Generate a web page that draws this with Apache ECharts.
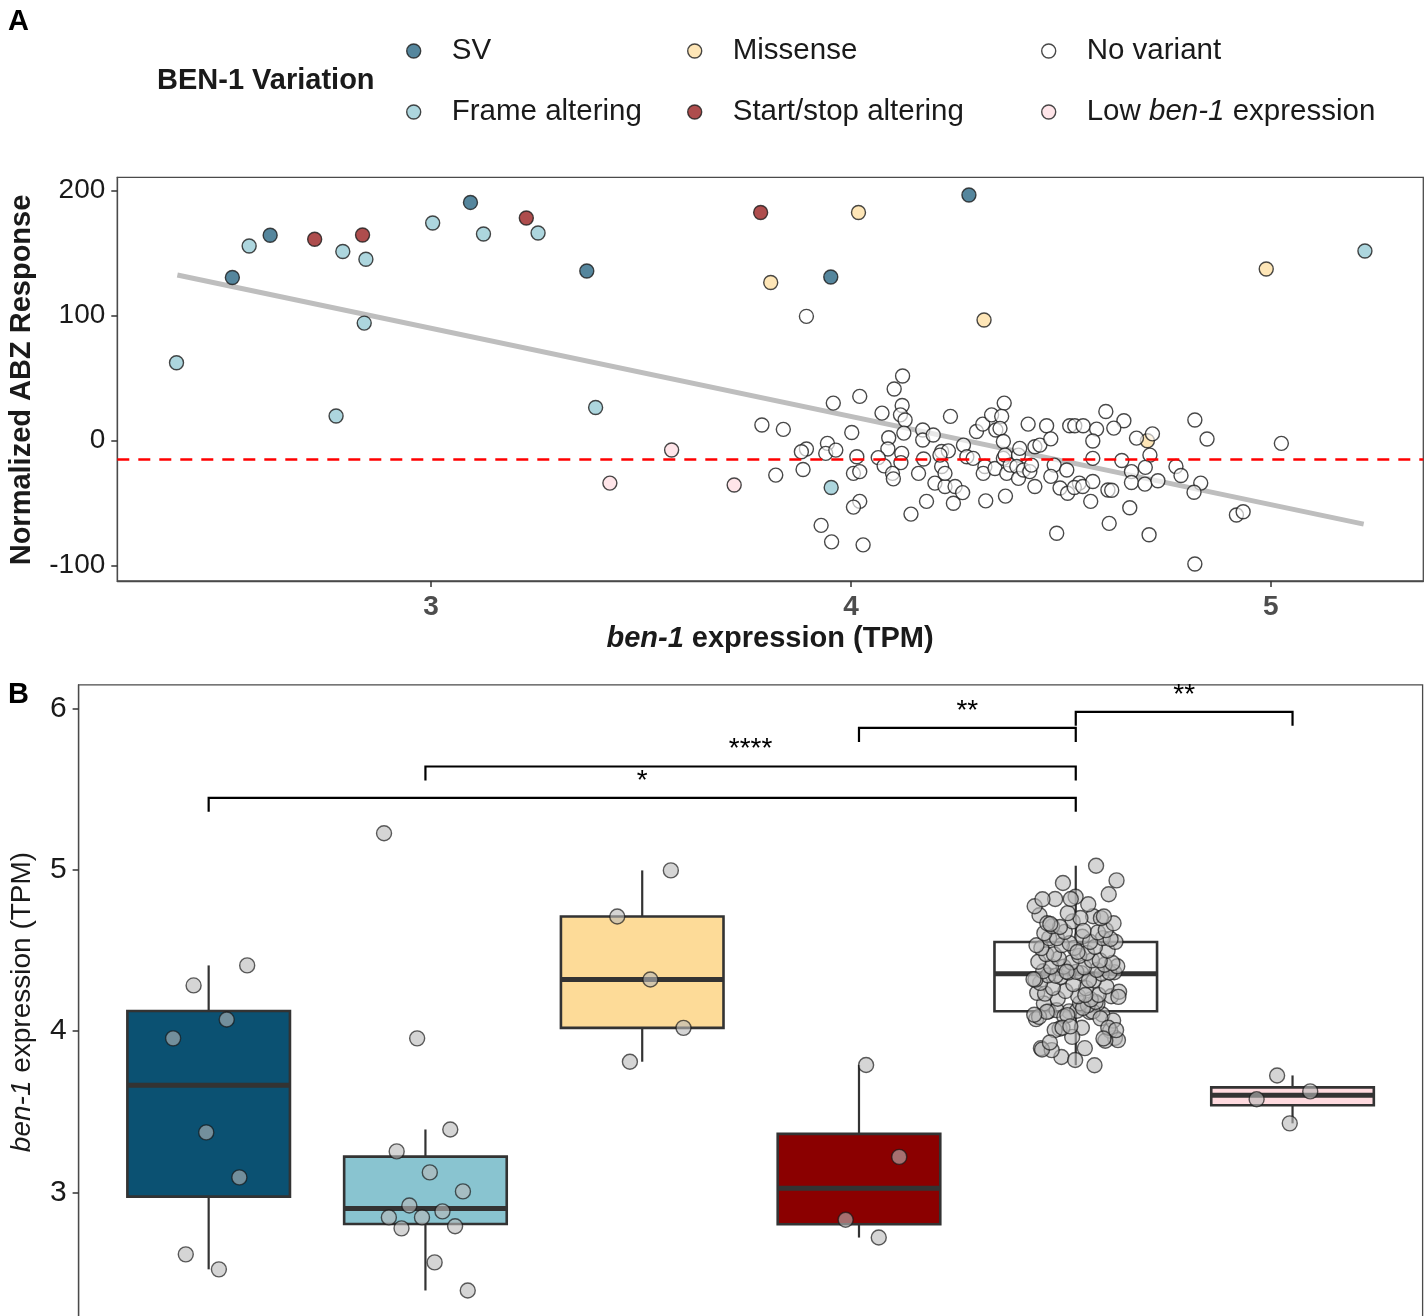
<!DOCTYPE html>
<html>
<head>
<meta charset="utf-8">
<script src="https://cdn.jsdelivr.net/npm/echarts@6/dist/echarts.min.js"></script>
<style>
  html, body { margin: 0; padding: 0; overflow: hidden; background: #fff; }
  #chart { width: 1427px; height: 1420px; }
</style>
</head>
<body>
<div id="chart"></div>
<script>
// ---- Variant classes ----
const groups = ['SV', 'Frame altering', 'Missense', 'Start/stop altering', 'No variant', 'Low ben-1 expression'];

// ---- Panel A: ben-1 expression (TPM) vs normalized ABZ response ----
const svTPM_A = [2.527, 2.617, 3.094, 3.371, 3.952, 4.281];
const svABZ = [130.6, 164.3, 190.6, 135.7, 131.0, 196.5];
const frameTPM_A = [2.394, 2.567, 2.774, 2.790, 2.841, 2.845, 3.004, 3.125, 3.255, 3.392, 3.953, 5.224];
const frameABZ = [62.4, 155.8, 19.8, 151.4, 94.1, 145.1, 174.1, 165.4, 166.2, 26.6, -37.4, 151.8];
const missenseTPM_A = [3.809, 4.018, 4.317, 4.706, 4.989];
const missenseABZ = [126.6, 182.6, 96.6, 0.0, 137.3];
const startStopTPM_A = [2.723, 2.837, 3.227, 3.785];
const startStopABZ = [161.1, 164.6, 178.1, 182.6];
const lowTPM_A = [3.426, 3.573, 3.722];
const lowABZ = [-33.9, -7.4, -35.4];

// Strains without a ben-1 variant (shared by both panels)
const noVariantTPM = [
  3.894, 3.788, 3.839, 3.958, 4.021, 4.123, 4.103, 4.122, 4.074, 4.118,
  4.129, 4.002, 4.126, 4.171, 4.171, 4.090, 3.944, 3.894, 3.882, 3.940,
  3.964, 4.088, 4.121, 4.014, 4.065, 4.173, 4.119, 4.079, 4.099, 4.101,
  4.161, 4.006, 4.021, 3.821, 3.886, 4.180, 4.021, 4.006, 4.143, 3.929,
  3.954, 4.029,
  4.237, 4.196, 4.200, 4.216, 4.216, 4.232, 4.224, 4.248, 4.244, 4.266,
  4.268, 4.276, 4.291, 4.299, 4.314, 4.335, 4.365, 4.359, 4.345, 4.355,
  4.363, 4.319, 4.315, 4.343, 4.363, 4.367, 4.371, 4.379, 4.399, 4.402,
  4.395, 4.399, 4.411, 4.426, 4.430, 4.438, 4.450, 4.422, 4.466, 4.476,
  4.438, 4.368, 4.321, 4.484, 4.476, 4.498, 4.516, 4.514, 4.521, 4.533,
  4.553, 4.585, 4.576, 4.576, 4.544, 4.532, 4.552, 4.576, 4.571, 4.490,
  4.607, 4.612, 4.615, 4.212, 4.224,
  4.650, 4.626, 4.680, 4.718, 4.712, 4.645, 4.668, 4.701, 4.668, 4.700,
  4.731, 4.774, 4.786, 4.819, 4.848, 4.833, 4.817, 5.025, 4.918, 4.934,
  4.621, 4.664, 4.710, 4.819
];
const noVariantABZ = [
  99.5, 12.6, 9.1, 30.1, 35.5, 51.8, 41.4, 28.2, 22.1, 20.7,
  16.6, 6.6, 6.1, 8.6, 0.6, 2.4, -2.1, -6.6, -8.8, -10.1,
  -7.5, -6.6, -10.1, -12.8, -13.5, -14.6, -17.5, -20.1, -26.1, -30.5,
  -26.1, -26.1, -24.7, -27.5, -23.0, -48.5, -48.5, -53.1, -58.7, -67.7,
  -80.9, -83.3,
  19.5, 4.6, -33.9, -20.6, -8.6, -8.1, -36.6, -36.6, -50.0, -41.5,
  -3.5, -12.8, -14.1, 7.4, 13.3, 20.7, 30.1, 19.5, 8.6, 9.9,
  -0.6, -20.6, -26.1, -22.2, -14.1, -11.5, -26.1, -19.5, -11.5, -6.1,
  -20.6, -30.1, -23.4, -24.7, -19.5, -4.8, -3.5, 13.3, 12.0, 1.5,
  -36.6, -44.3, -48.1, -19.5, -28.5, -37.8, -42.0, -23.4, 12.0, 12.0,
  12.0, 9.3, -0.2, -14.1, -33.9, -37.4, -36.6, -32.6, -48.5, -74.0,
  23.4, -39.4, -66.1, -11.5, -26.1,
  16.0, 10.1, 2.1, 5.5, -11.5, -15.8, -24.7, -21.3, -33.4, -34.7,
  -32.0, -20.6, -27.8, 16.6, 1.4, -33.9, -41.2, -2.1, -59.4, -56.8,
  -39.6, -53.6, -75.2, -98.6
];

// Linear fit end points and the response threshold
const fitTPM = [2.396, 5.221];
const fitABZ = [132.6, -66.7];
const abzThreshold = -15;

// ---- Panel B: ben-1 expression per variant class ----
const svTPM = [2.523, 2.616, 3.093, 3.372, 3.955, 4.072, 4.283, 4.407];
const frameTPM = [2.392, 2.566, 2.777, 2.790, 2.845, 2.845, 2.882, 2.919, 3.006, 3.124, 3.254, 3.390, 3.955, 5.226];
const missenseTPM = [3.810, 4.020, 4.320, 4.710, 4.996];
const startStopTPM = [2.720, 2.830, 3.220, 3.790];
const lowTPM = [3.428, 3.577, 3.626, 3.725];

// Pairwise comparisons: [group 1, group 2, label, bracket height]
const comparisons = [
  ['SV', 'No variant', '*', 5.446],
  ['Frame altering', 'No variant', '****', 5.640],
  ['Start/stop altering', 'No variant', '**', 5.879],
  ['No variant', 'Low ben-1 expression', '**', 5.979]
];

// Axis ticks
const abzTicks = [-100, 0, 100, 200];
const tpmTicksA = [3, 4, 5];

// ---- styling ----
const FONT = '"Liberation Sans", Arial, Helvetica, sans-serif';
const palette = ['#0B5172', '#89C4D0', '#FDDB98', '#8B0000', '#FFFFFF', '#FFDADF'];
function rgba(hex, a) {
  const n = parseInt(hex.slice(1), 16);
  return 'rgba(' + ((n >> 16) & 255) + ',' + ((n >> 8) & 255) + ',' + (n & 255) + ',' + a + ')';
}
function zip(xs, ys) { return xs.map((x, i) => [x, ys[i]]); }

// ---- box statistics (R type-7 quantiles, 1.5 IQR whiskers) ----
function quantile(sorted, p) {
  const h = (sorted.length - 1) * p;
  const lo = Math.floor(h);
  const hi = Math.min(lo + 1, sorted.length - 1);
  return sorted[lo] + (h - lo) * (sorted[hi] - sorted[lo]);
}
function boxStats(values) {
  const s = values.slice().sort((a, b) => a - b);
  const q1 = quantile(s, 0.25), med = quantile(s, 0.5), q3 = quantile(s, 0.75);
  const iqr = q3 - q1;
  const lo = s.find(v => v >= q1 - 1.5 * iqr);
  const hi = s.slice().reverse().find(v => v <= q3 + 1.5 * iqr);
  return [lo, q1, med, q3, hi];
}

const tpmByGroup = [svTPM, frameTPM, missenseTPM, startStopTPM, noVariantTPM, lowTPM];
const boxData = tpmByGroup.map((vals, gi) => [gi + 1].concat(boxStats(vals)));

// horizontal spread of the points (width 0.2 either side of the group centre)
function spread(i, seed) {
  const u = ((i + 1) * 0.6180339887 + seed) % 1;
  return (u - 0.5) * 0.4;
}
const pointsB = [];
tpmByGroup.forEach((vals, gi) => {
  vals.forEach((v, i) => pointsB.push([gi + 1 + spread(i, gi * 0.37), v]));
});

const bracketData = comparisons.map(c => [groups.indexOf(c[0]) + 1, groups.indexOf(c[1]) + 1, c[3]]);

// ---- panel A scatter series ----
const scatterA = [
  [0, svTPM_A, svABZ],
  [1, frameTPM_A, frameABZ],
  [2, missenseTPM_A, missenseABZ],
  [3, startStopTPM_A, startStopABZ],
  [5, lowTPM_A, lowABZ],
  [4, noVariantTPM, noVariantABZ]
].map(([gi, xs, ys]) => ({
  type: 'scatter',
  name: groups[gi],
  xAxisIndex: 0, yAxisIndex: 0,
  data: zip(xs, ys),
  symbol: 'circle',
  symbolSize: 14,
  z: 4,
  itemStyle: { color: rgba(palette[gi], gi === 4 ? 0.8 : 0.87), borderColor: '#1a1a1a', borderWidth: 1.4 },
  emphasis: { disabled: true }
}));

function legendFormatter(name) {
  if (name === 'Low ben-1 expression') return '{n|Low }{i|ben-1}{n| expression}';
  return '{n|' + name + '}';
}
function makeLegend(left, names) {
  return {
    data: names, left: left, top: 36, orient: 'vertical', padding: 0,
    itemWidth: 66, itemHeight: 14, itemGap: 31, icon: 'circle',
    selectedMode: false,
    itemStyle: { borderColor: '#1a1a1a', borderWidth: 1.4 },
    formatter: legendFormatter,
    textStyle: {
      fontSize: 29.5, color: '#1a1a1a', fontFamily: FONT, lineHeight: 28,
      rich: {
        n: { fontSize: 29.5, fontFamily: FONT, color: '#1a1a1a', lineHeight: 28 },
        i: { fontSize: 29.5, fontFamily: FONT, color: '#1a1a1a', lineHeight: 28, fontStyle: 'italic' }
      }
    }
  };
}

const chart = echarts.init(document.getElementById('chart'), null, { renderer: 'canvas' });

const option = {
  animation: false,
  backgroundColor: '#ffffff',
  textStyle: { fontFamily: FONT },
  legend: [
    makeLegend(406, ['SV', 'Frame altering']),
    makeLegend(687, ['Missense', 'Start/stop altering']),
    makeLegend(1041, ['No variant', 'Low ben-1 expression'])
  ],
  grid: [
    { left: 117.3, top: 177.3, width: 1306, height: 403.7, show: true, borderColor: '#4a4a4a', borderWidth: 1.3,
      backgroundColor: 'transparent', outerBoundsMode: 'none', containLabel: false },
    { left: 78.6, top: 684.9, width: 1344, height: 668.8, show: true, borderColor: '#4a4a4a', borderWidth: 1.3,
      backgroundColor: 'transparent', outerBoundsMode: 'none', containLabel: false }
  ],
  xAxis: [
    {
      type: 'value', gridIndex: 0, min: 2.253, max: 5.363,
      axisLine: { show: true, onZero: false, lineStyle: { color: '#4a4a4a', width: 1.3 } },
      axisTick: { show: true, length: 6, customValues: tpmTicksA, lineStyle: { color: '#333', width: 1.5 } },
      axisLabel: { customValues: tpmTicksA, fontSize: 28, fontWeight: 'bold', color: '#4d4d4d', margin: 12, fontFamily: FONT },
      splitLine: { show: false }
    },
    {
      type: 'value', gridIndex: 1, min: 0.4, max: 6.6,
      axisLine: { show: false, onZero: false }, axisTick: { show: false }, axisLabel: { show: false }, splitLine: { show: false }
    }
  ],
  yAxis: [
    {
      type: 'value', gridIndex: 0, min: -112.2, max: 210.7,
      axisLine: { show: true, onZero: false, lineStyle: { color: '#4a4a4a', width: 1.3 } },
      axisTick: { show: true, length: 6, customValues: abzTicks, lineStyle: { color: '#333', width: 1.5 } },
      axisLabel: { customValues: abzTicks, fontSize: 28, color: '#1a1a1a', margin: 12, fontFamily: FONT },
      splitLine: { show: false }
    },
    {
      type: 'value', gridIndex: 1, min: 2, max: 6.146, interval: 1,
      axisLine: { show: true, onZero: false, lineStyle: { color: '#4a4a4a', width: 1.3 } },
      axisTick: { show: true, length: 6, lineStyle: { color: '#333', width: 1.5 } },
      axisLabel: { fontSize: 30, color: '#1a1a1a', margin: 12, fontFamily: FONT },
      splitLine: { show: false }
    }
  ],
  series: [
    {
      type: 'line', name: 'fit', xAxisIndex: 0, yAxisIndex: 0,
      data: zip(fitTPM, fitABZ), symbol: 'none', z: 2, silent: true,
      lineStyle: { color: '#bebebe', width: 5 },
      markLine: {
        silent: true, symbol: ['none', 'none'], label: { show: false },
        lineStyle: { color: '#ff0000', width: 2.5, type: [12, 9] },
        data: [{ yAxis: abzThreshold }]
      }
    },
    ...scatterA,
    {
      type: 'custom', name: 'boxes', xAxisIndex: 1, yAxisIndex: 1, z: 2, silent: true,
      data: boxData,
      encode: { x: 0, y: [1, 2, 3, 4, 5] },
      renderItem: function (params, api) {
        const x = api.value(0);
        const lo = api.value(1), q1 = api.value(2), med = api.value(3), q3 = api.value(4), hi = api.value(5);
        const half = 0.375;
        const tl = api.coord([x - half, q3]);
        const br = api.coord([x + half, q1]);
        const mL = api.coord([x - half, med]);
        const mR = api.coord([x + half, med]);
        const pHi = api.coord([x, hi]), pQ3 = api.coord([x, q3]);
        const pQ1 = api.coord([x, q1]), pLo = api.coord([x, lo]);
        const lineStyle = { stroke: '#333333', lineWidth: 2.2 };
        return {
          type: 'group',
          children: [
            { type: 'line', shape: { x1: pHi[0], y1: pHi[1], x2: pQ3[0], y2: pQ3[1] }, style: lineStyle },
            { type: 'line', shape: { x1: pQ1[0], y1: pQ1[1], x2: pLo[0], y2: pLo[1] }, style: lineStyle },
            { type: 'rect', shape: { x: tl[0], y: tl[1], width: br[0] - tl[0], height: br[1] - tl[1] },
              style: { fill: palette[params.dataIndex], stroke: '#333333', lineWidth: 2.6 } },
            { type: 'line', shape: { x1: mL[0], y1: mL[1], x2: mR[0], y2: mR[1] }, style: { stroke: '#333333', lineWidth: 5 } }
          ]
        };
      }
    },
    {
      type: 'scatter', name: 'strains', xAxisIndex: 1, yAxisIndex: 1, z: 4, silent: true,
      data: pointsB, symbol: 'circle', symbolSize: 15,
      itemStyle: { color: 'rgba(185,185,185,0.75)', borderColor: 'rgba(20,20,20,0.85)', borderWidth: 1.4 }
    },
    {
      type: 'custom', name: 'comparisons', xAxisIndex: 1, yAxisIndex: 1, z: 5, silent: true,
      data: bracketData,
      encode: { x: [0, 1], y: 2 },
      renderItem: function (params, api) {
        const a = api.coord([api.value(0), api.value(2)]);
        const b = api.coord([api.value(1), api.value(2)]);
        const tick = 14;
        return {
          type: 'group',
          children: [
            { type: 'polyline', shape: { points: [[a[0], a[1] + tick], [a[0], a[1]], [b[0], b[1]], [b[0], b[1] + tick]] },
              style: { stroke: '#000', lineWidth: 2.2, fill: null } },
            { type: 'text', x: (a[0] + b[0]) / 2, y: a[1] - 3,
              style: { text: comparisons[params.dataIndex][2], fill: '#000', font: '28px ' + FONT, align: 'center', verticalAlign: 'bottom' } }
          ]
        };
      }
    }
  ],
  graphic: [
    { type: 'text', x: 8, y: 7, style: { text: 'A', fill: '#000', font: 'bold 29px ' + FONT, verticalAlign: 'top' } },
    { type: 'text', x: 8, y: 680, style: { text: 'B', fill: '#000', font: 'bold 29px ' + FONT, verticalAlign: 'top' } },
    { type: 'text', x: 157, y: 81, style: { text: 'BEN-1 Variation', fill: '#1a1a1a', font: 'bold 29px ' + FONT, verticalAlign: 'middle', align: 'left' } },
    { type: 'text', x: 22, y: 380, rotation: Math.PI / 2,
      style: { text: 'Normalized ABZ Response', fill: '#1a1a1a', font: 'bold 29px ' + FONT, align: 'center', verticalAlign: 'middle' } },
    { type: 'text', x: 770, y: 639,
      style: {
        text: '{i|ben-1}{b| expression (TPM)}', align: 'center', verticalAlign: 'middle',
        rich: {
          i: { fontFamily: FONT, fontSize: 29, fontWeight: 'bold', fontStyle: 'italic', fill: '#1a1a1a' },
          b: { fontFamily: FONT, fontSize: 29, fontWeight: 'bold', fill: '#1a1a1a' }
        }
      } },
    { type: 'text', x: 22, y: 1002, rotation: Math.PI / 2,
      style: {
        text: '{i|ben-1}{b| expression (TPM)}', align: 'center', verticalAlign: 'middle',
        rich: {
          i: { fontFamily: FONT, fontSize: 28, fontStyle: 'italic', fill: '#1a1a1a' },
          b: { fontFamily: FONT, fontSize: 28, fill: '#1a1a1a' }
        }
      } }
  ]
};

chart.setOption(option);
</script>
</body>
</html>
